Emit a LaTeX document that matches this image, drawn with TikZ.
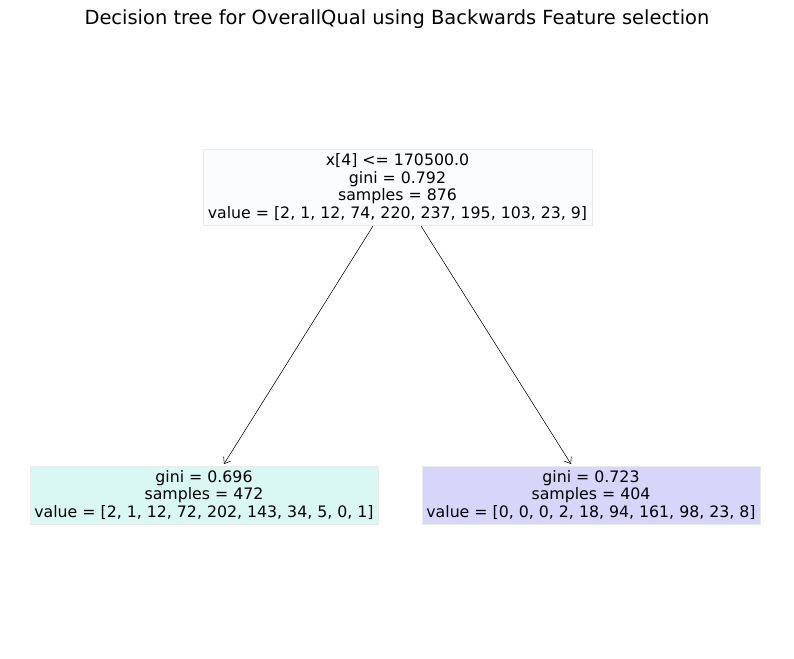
\documentclass[tikz,border=0pt]{standalone}
\usepackage{fontspec}
\setmainfont{DejaVu Sans}
\usetikzlibrary{arrows.meta}
\definecolor{rootfill}{HTML}{FBFCFE}
\definecolor{leftfill}{HTML}{D9F8F4}
\definecolor{rightfill}{HTML}{D7D5FA}
\definecolor{edgegray}{HTML}{EBEBEB}
\begin{document}
\begin{tikzpicture}[x=0.72pt,y=-0.72pt,
  treebox/.style={draw=edgegray,line width=0.4pt,inner sep=0pt,align=center,
    font=\fontsize{11.35}{12.7}\selectfont},
  edge/.style={line width=0.4pt,-{Straight Barb[length=4pt,width=6pt,line width=0.4pt]}}]
\useasboundingbox (0,0) rectangle (794,659);
\node[font=\fontsize{14}{16}\selectfont] (title) at (397,19) {Decision tree for OverallQual using Backwards Feature selection};
\node[treebox,fill=rootfill,minimum width=389*0.72pt,minimum height=76*0.72pt] (root) at (397.5,187)
  {x[4] <= 170500.0\\gini = 0.792\\samples = 876\\value = [2, 1, 12, 74, 220, 237, 195, 103, 23, 9]};
\node[treebox,fill=leftfill,minimum width=348*0.72pt,minimum height=58*0.72pt] (left) at (204,495)
  {gini = 0.696\\samples = 472\\value = [2, 1, 12, 72, 202, 143, 34, 5, 0, 1]};
\node[treebox,fill=rightfill,minimum width=338*0.72pt,minimum height=58*0.72pt] (right) at (591,495)
  {gini = 0.723\\samples = 404\\value = [0, 0, 0, 2, 18, 94, 161, 98, 23, 8]};
\coordinate (ls) at (373,226);
\coordinate (le) at (224,464);
\coordinate (rs) at (421,226);
\coordinate (re) at (571,464);
\draw[edge] (ls) -- (le);
\draw[edge] (rs) -- (re);
\end{tikzpicture}
\end{document}
